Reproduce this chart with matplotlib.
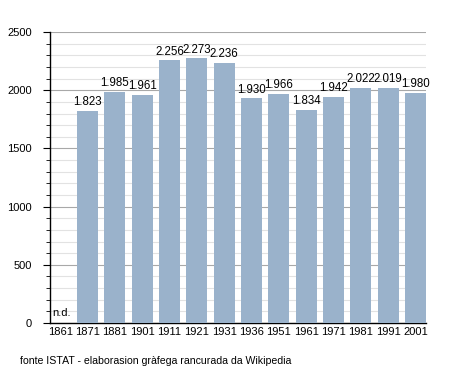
import matplotlib
matplotlib.use("Agg")
import matplotlib.pyplot as plt
from matplotlib.ticker import MultipleLocator

years = ["1861", "1871", "1881", "1901", "1911", "1921", "1931",
         "1936", "1951", "1961", "1971", "1981", "1991", "2001"]
population = [None, 1823, 1985, 1961, 2256, 2273, 2236,
              1930, 1966, 1834, 1942, 2022, 2019, 1980]

BAR_COLOR = "#9ab2cb"

plt.rcParams["font.family"] = ["Liberation Sans", "DejaVu Sans"]

fig = plt.figure(figsize=(4.55, 3.73), dpi=100)
ax = fig.add_axes([0.110, 0.134, 0.826, 0.780])

x = list(range(len(years)))
for i, v in zip(x, population):
    if v is None:
        ax.text(i - 0.3, 40, "n.d.", fontsize=8, ha="left", va="bottom")
        continue
    ax.bar(i, v, width=0.77, color=BAR_COLOR, zorder=3)
    label = f"{v:,}".replace(",", ".")
    ax.text(i, v + 25, label, fontsize=8.3, ha="center", va="bottom", zorder=4)

ax.set_xlim(-0.37, len(years) - 0.615)
ax.set_ylim(0, 2500)
ax.set_xticks(x)
ax.set_xticklabels(years, fontsize=8)
ax.tick_params(axis="x", length=0, pad=3)

ax.yaxis.set_major_locator(MultipleLocator(500))
ax.yaxis.set_minor_locator(MultipleLocator(100))
ax.tick_params(axis="y", which="major", length=5, labelsize=8, pad=8)
ax.tick_params(axis="y", which="minor", length=3)
ax.grid(axis="y", which="minor", color="#e2e2e2", linewidth=0.8, zorder=0)
ax.grid(axis="y", which="major", color="#a8a8a8", linewidth=0.8, zorder=1)

for side in ("top", "right"):
    ax.spines[side].set_visible(False)
ax.spines["left"].set_linewidth(1.0)
ax.spines["bottom"].set_linewidth(1.0)

fig.text(20 / 455, 1 - 361 / 373, "fonte ISTAT - elaborasion gràfega rancurada da Wikipedia",
         fontsize=7.6, ha="left", va="center")

fig.savefig("out.png", dpi=100)
